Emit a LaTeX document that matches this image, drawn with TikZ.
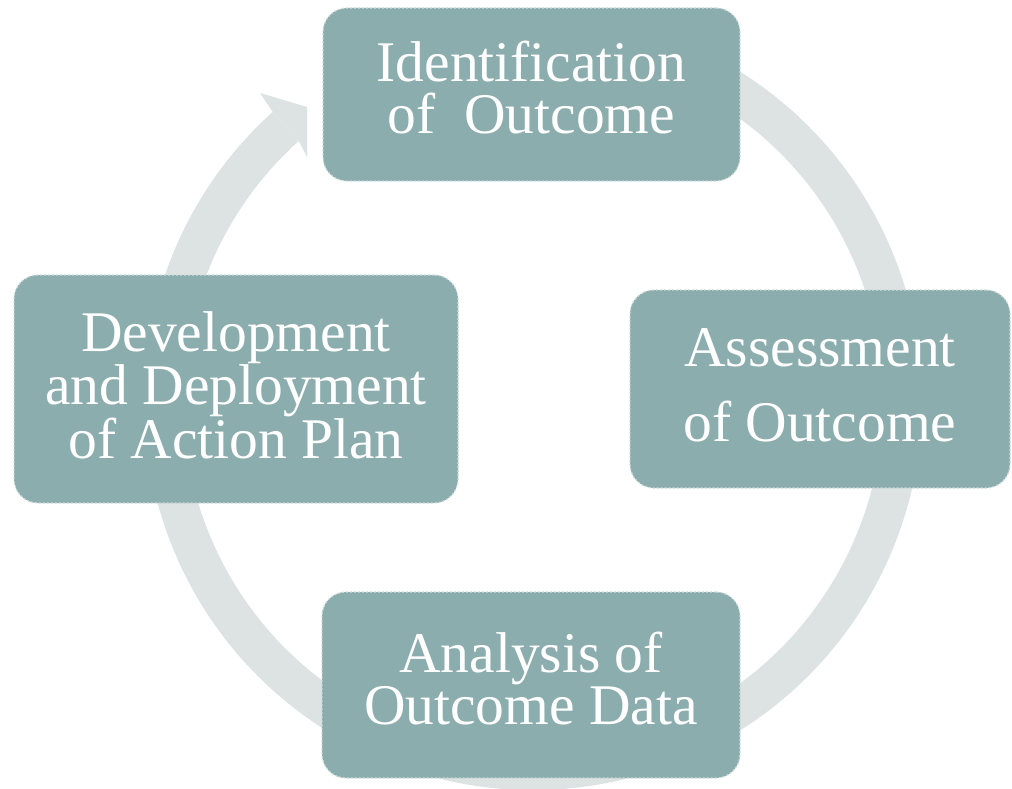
\documentclass[tikz,border=0pt]{standalone}
\usepackage{fontspec}
\setmainfont{Liberation Serif}
\usepackage{xcolor}
\usepackage{tikz}
\definecolor{boxteal}{RGB}{139,173,173}
\definecolor{ringgray}{RGB}{220,227,226}
\definecolor{edgegray}{RGB}{205,218,218}

\begin{document}
\begin{tikzpicture}[x=1pt,y=1pt,
	stage/.style={rectangle, rounded corners=24pt, fill=boxteal, draw=edgegray,
		dash pattern=on 2pt off 2pt, line width=1.2pt, text=white, align=center,
		inner sep=0pt, font=\fontsize{57.5}{52}\selectfont},
	ring/.style={draw=ringgray, line width=39pt, line cap=butt}]
			\useasboundingbox (0,0) rectangle (1012,-789);
			\coordinate (hub) at (533,-401);
			\draw [ring] ([shift={(hub)}]110:369.5) arc [start angle=110, end angle=-228, radius=369.5];
			\fill [ringgray] ([shift={(hub)}]132:389) -- (260,-93) -- (307,-107) -- (307,-157) -- ([shift={(hub)}]132:350) -- cycle;
			\node [stage, minimum width=417, minimum height=173, text depth=14pt] (ident) at (531.5,-94.5) {Identification\\of\ \ Outcome};
			\node [stage, minimum width=380, minimum height=198, text depth=8pt, font=\fontsize{57.5}{75}\selectfont] (assess) at (820,-389) {Assessment\\of Outcome};
			\node [stage, minimum width=418, minimum height=186, text depth=14pt] (analysis) at (531,-685) {Analysis of\\Outcome Data};
			\node [stage, minimum width=444, minimum height=228, text depth=8pt] (devel) at (236,-389) {Development\\and Deployment\\of Action Plan};
		\end{tikzpicture}
\end{document}
